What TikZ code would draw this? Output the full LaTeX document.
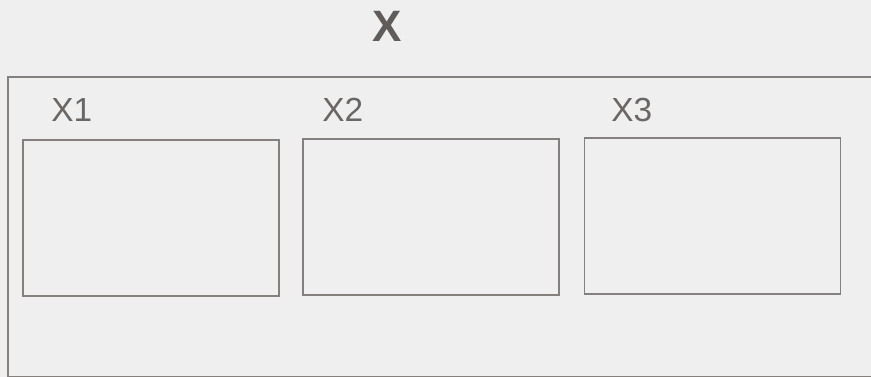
\documentclass[tikz,border=0pt]{standalone}
\usepackage{fontspec}
\setmainfont{Liberation Sans}
\usetikzlibrary{positioning}
\definecolor{paper}{HTML}{EFEFEF}
\definecolor{frameline}{HTML}{85807E}
\definecolor{inkgray}{HTML}{6A6664}
\begin{document}
\begin{tikzpicture}[x=0.02cm, y=-0.02cm,
  part/.style={draw=frameline,line width=0.9pt,minimum width=5.12cm,minimum height=3.12cm,inner sep=0pt},
  partlabel/.style={font=\fontsize{19}{19}\selectfont,text=inkgray,anchor=west,inner sep=0pt}]
\fill[paper] (0,0) rectangle (871,377);
\useasboundingbox (0,0) rectangle (871,377);
\clip (0,0) rectangle (871,377);
% title
\node[font=\fontsize{25}{25}\selectfont\bfseries,text=inkgray!90!black,inner sep=0pt] (title) at (387,26) {X};
% outer frame (runs off the right edge)
\node[draw=frameline,line width=0.9pt,anchor=north west,minimum width=18cm,minimum height=6cm,inner sep=0pt] (frame) at (7,76) {};
% the three parts
\node[part] (x1) at (151,218) {};
\node[part] (x2) at (431,217) {};
\node[part] (x3) at (712.5,216) {};
\node[partlabel] (lx1) at (51,110) {X1};
\node[partlabel] (lx2) at (322,110) {X2};
\node[partlabel] (lx3) at (611,110) {X3};
\end{tikzpicture}
\end{document}
